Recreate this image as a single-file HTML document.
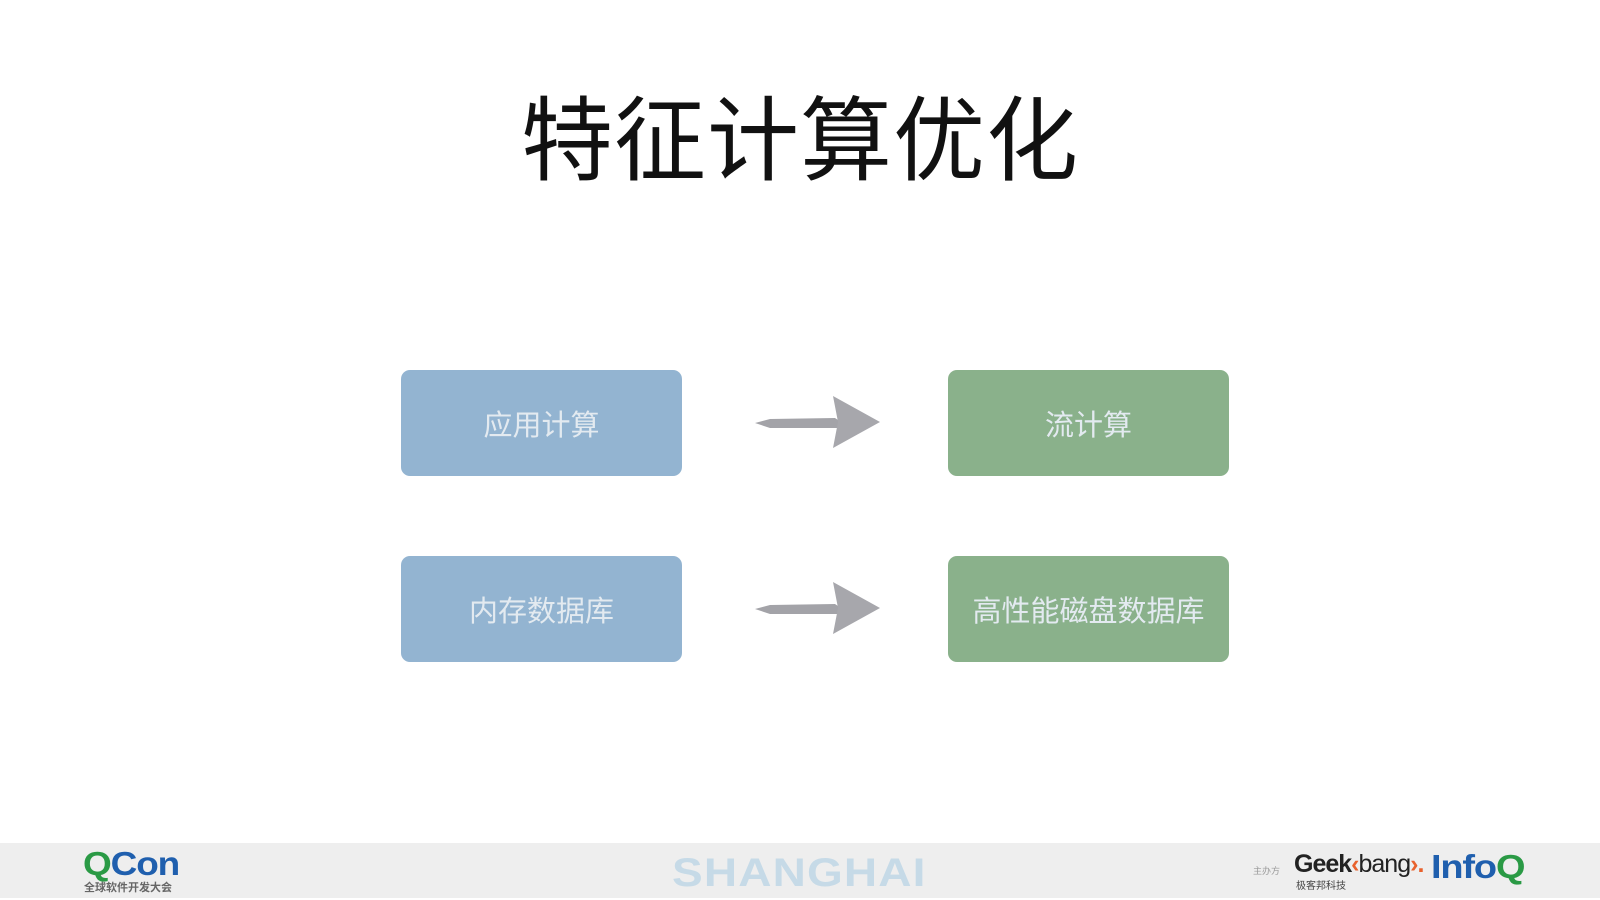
<!DOCTYPE html>
<html><head><meta charset="utf-8"><style>
body{margin:0;width:1600px;height:900px;background:#fff;position:relative;overflow:hidden;font-family:"Liberation Sans","Noto Sans CJK SC",sans-serif}
.t{position:absolute;left:0;width:1600px;top:82px;text-align:center;font-size:92px;line-height:120px;color:#111;letter-spacing:1px}
.b{position:absolute;width:281px;height:106px;border-radius:9px;color:#e3eaf0;font-size:29px;display:flex;align-items:center;justify-content:center}
.bl{background:#93b4d1}.gr{background:#8ab18b}
.f{position:absolute;left:0;top:843px;width:1600px;height:55px;background:#eeeeee}
.a{position:absolute;transform-origin:0 0}
</style></head><body>
<div class="t">特征计算优化</div>
<div class="b bl" style="left:401px;top:370px">应用计算</div>
<div class="b gr" style="left:948px;top:370px">流计算</div>
<div class="b bl" style="left:401px;top:556px">内存数据库</div>
<div class="b gr" style="left:948px;top:556px">高性能磁盘数据库</div>
<svg class="a" style="left:750px;top:390px" width="140" height="64"><path d="M5 33 L20 29 L85 28 L88 30 L88 38 L20 38 Z" fill="#a3a3a8"/><path d="M83 6 L130 32 L83 58 L88 32 Z" fill="#a7a7ac"/></svg>
<svg class="a" style="left:750px;top:576px" width="140" height="64"><path d="M5 33 L20 29 L85 28 L88 30 L88 38 L20 38 Z" fill="#a3a3a8"/><path d="M83 6 L130 32 L83 58 L88 32 Z" fill="#a7a7ac"/></svg>
<div class="f"></div>
<div class="a" style="left:83px;top:845px;font-size:33px;font-weight:bold;letter-spacing:-1px;transform:scaleX(1.12)"><span style="color:#2a9a45">Q</span><span style="color:#1f5fae">Con</span></div>
<div class="a" style="left:84px;top:879px;font-size:11px;color:#666;font-weight:bold">全球软件开发大会</div>
<div class="a" style="left:672px;top:851px;font-size:40px;font-weight:bold;color:#c6dae7;letter-spacing:1px;transform:scaleX(1.15)">SHANGHAI</div>
<div class="a" style="left:1253px;top:864px;font-size:9px;color:#999">主办方</div>
<div class="a" style="left:1294px;top:850px;font-size:25px;font-weight:bold;color:#222;letter-spacing:-1px">Geek<span style="color:#e8612c">‹</span><span style="font-weight:normal">bang</span><span style="color:#e8612c">›.</span></div>
<div class="a" style="left:1296px;top:877px;font-size:10px;color:#444">极客邦科技</div>
<div class="a" style="left:1431px;top:848px;font-size:33px;font-weight:bold;color:#1f5fae;letter-spacing:-1px;transform:scaleX(1.15)">Info<span style="color:#2a9a45">Q</span></div>
</body></html>
